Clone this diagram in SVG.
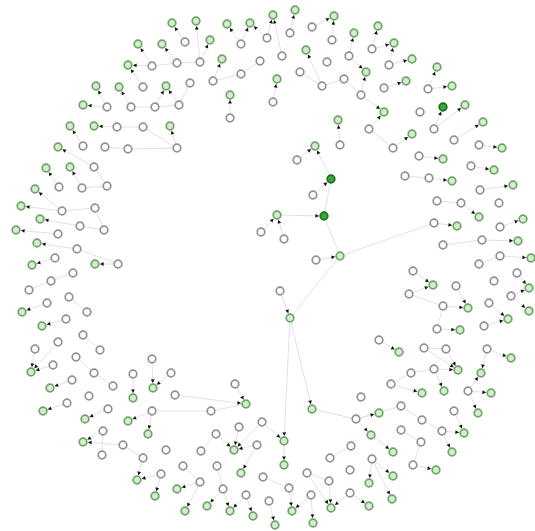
<svg xmlns="http://www.w3.org/2000/svg" width="535" height="531" viewBox="0 0 535 531">
<style>
.e{stroke:#e2e2e2;stroke-width:1;fill:none}
.a{marker-end:url(#ar)}
.g{fill:#fff;stroke:#929292;stroke-width:1.7}
.l{fill:#d4ecd0;stroke:#6fa467;stroke-width:1.7}
.d{fill:#38a838;stroke:#1f6e1f;stroke-width:1.7}
</style>
<defs>
<marker id="ar" markerUnits="userSpaceOnUse" markerWidth="12" markerHeight="6" viewBox="-10 -3 12 6" refX="0" refY="0" orient="auto" overflow="visible"><path d="M-8.6,-1.9 L-5,0 L-8.6,1.9 z" fill="#111"/></marker>
</defs>
<rect width="535" height="531" fill="#fff"/>
<g id="edges">
<line class="e" x1="290" y1="318" x2="340" y2="256"/>
<line class="e" x1="340" y1="256" x2="434" y2="223"/>
<line class="e" x1="324" y1="216" x2="340" y2="256"/>
<line class="e" x1="331" y1="179" x2="324" y2="216"/>
<line class="e" x1="312" y1="409" x2="356" y2="419"/>
<line class="e" x1="152" y1="411" x2="211" y2="411"/>
<line class="e" x1="211" y1="411" x2="246" y2="404"/>
<line class="e" x1="177" y1="63" x2="200" y2="62"/>
<line class="e" x1="152" y1="66" x2="177" y2="63"/>
<line class="e" x1="131" y1="107" x2="155" y2="107"/>
<line class="e" x1="155" y1="107" x2="179" y2="105"/>
<line class="e" x1="179" y1="105" x2="190" y2="83"/>
<line class="e" x1="117" y1="127" x2="143" y2="127"/>
<line class="e" x1="143" y1="127" x2="177" y2="148"/>
<line class="e" x1="105" y1="147" x2="128" y2="149"/>
<line class="e" x1="128" y1="149" x2="177" y2="148"/>
<line class="e" x1="94" y1="167" x2="107" y2="186"/>
<line class="e" x1="82" y1="188" x2="107" y2="186"/>
<line class="e" x1="95" y1="208" x2="104" y2="230"/>
<line class="e" x1="62" y1="211" x2="95" y2="208"/>
<line class="e" x1="80" y1="226" x2="104" y2="230"/>
<line class="e" x1="77" y1="249" x2="118" y2="264"/>
<line class="e" x1="213" y1="81" x2="241" y2="74"/>
<line class="e" x1="241" y1="74" x2="260" y2="61"/>
<line class="e" x1="300" y1="72" x2="322" y2="86"/>
<line class="e" x1="322" y1="86" x2="344" y2="79"/>
<line class="e" x1="344" y1="79" x2="361" y2="95"/>
<line class="e" x1="369" y1="129" x2="393" y2="148"/>
<line class="e" x1="405" y1="176" x2="429" y2="178"/>
<line class="e" x1="437" y1="201" x2="461" y2="203"/>
<line class="e" x1="443" y1="245" x2="482" y2="240"/>
<line class="e" x1="479" y1="264" x2="500" y2="256"/>
<line class="e" x1="409" y1="294" x2="443" y2="306"/>
<line class="e" x1="443" y1="306" x2="437" y2="329"/>
<line class="e" x1="424" y1="348" x2="446" y2="349"/>
<line class="e" x1="411" y1="373" x2="434" y2="369"/>
<line class="e" x1="391" y1="384" x2="411" y2="373"/>
<line class="e" x1="356" y1="419" x2="401" y2="406"/>
<line class="e" x1="401" y1="406" x2="422" y2="420"/>
<line class="e" x1="422" y1="420" x2="442" y2="431"/>
<line class="e" x1="401" y1="430" x2="421" y2="442"/>
<line class="e" x1="421" y1="442" x2="413" y2="465"/>
<line class="e" x1="330" y1="458" x2="351" y2="446"/>
<line class="e" x1="307" y1="473" x2="329" y2="481"/>
<line class="e" x1="263" y1="477" x2="289" y2="488"/>
<line class="e" x1="217" y1="466" x2="223" y2="489"/>
<line class="e" x1="183" y1="466" x2="200" y2="482"/>
<line class="e" x1="201" y1="451" x2="216" y2="434"/>
<line class="e" x1="123" y1="445" x2="143" y2="458"/>
<line class="e" x1="103" y1="431" x2="102" y2="455"/>
<line class="e" x1="29" y1="290" x2="51" y2="281"/>
<line class="e" x1="51" y1="281" x2="73" y2="273"/>
<line class="e" x1="69" y1="297" x2="87" y2="312"/>
<line class="e" x1="83" y1="335" x2="100" y2="350"/>
<line class="e" x1="76" y1="357" x2="94" y2="373"/>
<line class="e" x1="94" y1="373" x2="113" y2="386"/>
<line class="e a" x1="185" y1="42" x2="172" y2="23"/>
<line class="e a" x1="152" y1="66" x2="138" y2="44"/>
<line class="e a" x1="177" y1="63" x2="162" y2="44"/>
<line class="e a" x1="152" y1="66" x2="128" y2="65"/>
<line class="e a" x1="143" y1="87" x2="128" y2="65"/>
<line class="e a" x1="107" y1="107" x2="96" y2="86"/>
<line class="e a" x1="131" y1="107" x2="119" y2="87"/>
<line class="e a" x1="179" y1="105" x2="166" y2="86"/>
<line class="e a" x1="155" y1="107" x2="166" y2="86"/>
<line class="e a" x1="107" y1="107" x2="83" y2="105"/>
<line class="e a" x1="83" y1="146" x2="70" y2="126"/>
<line class="e a" x1="117" y1="127" x2="94" y2="126"/>
<line class="e a" x1="177" y1="148" x2="170" y2="126"/>
<line class="e a" x1="200" y1="62" x2="196" y2="21"/>
<line class="e a" x1="241" y1="44" x2="227" y2="24"/>
<line class="e a" x1="241" y1="44" x2="250" y2="23"/>
<line class="e a" x1="267" y1="38" x2="250" y2="23"/>
<line class="e a" x1="267" y1="38" x2="273" y2="15"/>
<line class="e a" x1="282" y1="56" x2="273" y2="15"/>
<line class="e a" x1="290" y1="33" x2="295" y2="10"/>
<line class="e a" x1="312" y1="27" x2="334" y2="16"/>
<line class="e a" x1="332" y1="40" x2="334" y2="16"/>
<line class="e a" x1="349" y1="56" x2="354" y2="33"/>
<line class="e a" x1="200" y1="62" x2="210" y2="40"/>
<line class="e a" x1="213" y1="81" x2="222" y2="59"/>
<line class="e a" x1="322" y1="86" x2="306" y2="50"/>
<line class="e a" x1="273" y1="102" x2="277" y2="79"/>
<line class="e a" x1="230" y1="118" x2="230" y2="95"/>
<line class="e a" x1="340" y1="145" x2="338" y2="120"/>
<line class="e a" x1="372" y1="49" x2="378" y2="26"/>
<line class="e a" x1="372" y1="49" x2="394" y2="43"/>
<line class="e a" x1="389" y1="65" x2="394" y2="43"/>
<line class="e a" x1="361" y1="95" x2="366" y2="72"/>
<line class="e a" x1="349" y1="56" x2="366" y2="72"/>
<line class="e a" x1="389" y1="65" x2="412" y2="59"/>
<line class="e a" x1="428" y1="89" x2="437" y2="67"/>
<line class="e a" x1="384" y1="88" x2="406" y2="81"/>
<line class="e a" x1="428" y1="89" x2="452" y2="86"/>
<line class="e a" x1="369" y1="129" x2="384" y2="112"/>
<line class="e a" x1="361" y1="95" x2="384" y2="112"/>
<line class="e a" x1="434" y1="129" x2="443" y2="107"/>
<line class="e a" x1="434" y1="129" x2="465" y2="105"/>
<line class="e a" x1="454" y1="140" x2="483" y2="122"/>
<line class="e a" x1="393" y1="148" x2="412" y2="134"/>
<line class="e a" x1="479" y1="145" x2="502" y2="148"/>
<line class="e a" x1="419" y1="156" x2="443" y2="159"/>
<line class="e a" x1="471" y1="166" x2="494" y2="170"/>
<line class="e a" x1="429" y1="178" x2="452" y2="181"/>
<line class="e a" x1="480" y1="190" x2="513" y2="185"/>
<line class="e a" x1="461" y1="203" x2="479" y2="217"/>
<line class="e a" x1="500" y1="227" x2="523" y2="219"/>
<line class="e a" x1="434" y1="223" x2="457" y2="226"/>
<line class="e a" x1="482" y1="240" x2="518" y2="241"/>
<line class="e a" x1="500" y1="256" x2="531" y2="258"/>
<line class="e a" x1="413" y1="271" x2="433" y2="285"/>
<line class="e a" x1="409" y1="294" x2="433" y2="285"/>
<line class="e a" x1="511" y1="296" x2="529" y2="288"/>
<line class="e a" x1="517" y1="273" x2="529" y2="288"/>
<line class="e a" x1="456" y1="286" x2="468" y2="308"/>
<line class="e a" x1="443" y1="306" x2="468" y2="308"/>
<line class="e a" x1="489" y1="303" x2="508" y2="319"/>
<line class="e a" x1="484" y1="326" x2="508" y2="319"/>
<line class="e a" x1="511" y1="296" x2="529" y2="311"/>
<line class="e a" x1="437" y1="329" x2="460" y2="330"/>
<line class="e a" x1="379" y1="340" x2="399" y2="352"/>
<line class="e a" x1="487" y1="349" x2="511" y2="358"/>
<line class="e a" x1="446" y1="349" x2="458" y2="370"/>
<line class="e a" x1="434" y1="369" x2="458" y2="370"/>
<line class="e a" x1="424" y1="348" x2="458" y2="370"/>
<line class="e a" x1="487" y1="349" x2="481" y2="373"/>
<line class="e a" x1="468" y1="391" x2="481" y2="373"/>
<line class="e a" x1="391" y1="384" x2="422" y2="393"/>
<line class="e a" x1="434" y1="369" x2="444" y2="391"/>
<line class="e a" x1="468" y1="391" x2="491" y2="393"/>
<line class="e a" x1="356" y1="419" x2="379" y2="413"/>
<line class="e a" x1="468" y1="391" x2="478" y2="413"/>
<line class="e a" x1="356" y1="419" x2="371" y2="435"/>
<line class="e a" x1="454" y1="411" x2="464" y2="433"/>
<line class="e a" x1="442" y1="431" x2="464" y2="433"/>
<line class="e a" x1="371" y1="435" x2="393" y2="452"/>
<line class="e a" x1="442" y1="431" x2="452" y2="452"/>
<line class="e a" x1="413" y1="465" x2="436" y2="470"/>
<line class="e a" x1="372" y1="459" x2="369" y2="483"/>
<line class="e a" x1="372" y1="459" x2="393" y2="476"/>
<line class="e a" x1="350" y1="493" x2="369" y2="506"/>
<line class="e a" x1="372" y1="459" x2="392" y2="499"/>
<line class="e a" x1="175" y1="395" x2="246" y2="404"/>
<line class="e a" x1="235" y1="384" x2="246" y2="404"/>
<line class="e a" x1="290" y1="318" x2="312" y2="409"/>
<line class="e a" x1="290" y1="318" x2="284" y2="441"/>
<line class="e a" x1="216" y1="434" x2="234" y2="450"/>
<line class="e a" x1="239" y1="427" x2="234" y2="450"/>
<line class="e a" x1="262" y1="422" x2="234" y2="450"/>
<line class="e a" x1="257" y1="445" x2="234" y2="450"/>
<line class="e a" x1="262" y1="422" x2="284" y2="441"/>
<line class="e a" x1="257" y1="445" x2="241" y2="473"/>
<line class="e a" x1="284" y1="441" x2="284" y2="465"/>
<line class="e a" x1="200" y1="482" x2="185" y2="511"/>
<line class="e a" x1="223" y1="489" x2="207" y2="506"/>
<line class="e a" x1="223" y1="489" x2="230" y2="511"/>
<line class="e a" x1="246" y1="495" x2="230" y2="511"/>
<line class="e a" x1="246" y1="495" x2="253" y2="516"/>
<line class="e a" x1="269" y1="501" x2="275" y2="525"/>
<line class="e a" x1="289" y1="488" x2="292" y2="511"/>
<line class="e a" x1="311" y1="495" x2="292" y2="511"/>
<line class="e a" x1="311" y1="495" x2="313" y2="523"/>
<line class="e a" x1="329" y1="481" x2="331" y2="508"/>
<line class="e a" x1="350" y1="493" x2="331" y2="508"/>
<line class="e a" x1="307" y1="473" x2="331" y2="508"/>
<line class="e a" x1="200" y1="482" x2="177" y2="489"/>
<line class="e a" x1="67" y1="403" x2="43" y2="411"/>
<line class="e a" x1="108" y1="409" x2="85" y2="419"/>
<line class="e a" x1="123" y1="445" x2="83" y2="442"/>
<line class="e a" x1="103" y1="431" x2="83" y2="442"/>
<line class="e a" x1="152" y1="411" x2="128" y2="421"/>
<line class="e a" x1="152" y1="411" x2="148" y2="434"/>
<line class="e a" x1="161" y1="474" x2="137" y2="480"/>
<line class="e a" x1="143" y1="458" x2="137" y2="480"/>
<line class="e a" x1="161" y1="474" x2="155" y2="496"/>
<line class="e a" x1="133" y1="374" x2="133" y2="398"/>
<line class="e a" x1="152" y1="359" x2="153" y2="388"/>
<line class="e a" x1="171" y1="373" x2="153" y2="388"/>
<line class="e a" x1="47" y1="303" x2="22" y2="312"/>
<line class="e a" x1="66" y1="319" x2="42" y2="326"/>
<line class="e a" x1="53" y1="365" x2="31" y2="372"/>
<line class="e a" x1="35" y1="349" x2="31" y2="372"/>
<line class="e a" x1="58" y1="342" x2="31" y2="372"/>
<line class="e a" x1="72" y1="380" x2="50" y2="388"/>
<line class="e a" x1="55" y1="258" x2="32" y2="265"/>
<line class="e a" x1="118" y1="264" x2="95" y2="264"/>
<line class="e a" x1="94" y1="167" x2="58" y2="147"/>
<line class="e a" x1="59" y1="187" x2="46" y2="168"/>
<line class="e a" x1="82" y1="188" x2="70" y2="167"/>
<line class="e a" x1="62" y1="211" x2="35" y2="189"/>
<line class="e a" x1="62" y1="211" x2="21" y2="206"/>
<line class="e a" x1="80" y1="226" x2="40" y2="219"/>
<line class="e a" x1="58" y1="234" x2="16" y2="230"/>
<line class="e a" x1="77" y1="249" x2="37" y2="243"/>
<line class="e a" x1="261" y1="232" x2="277" y2="215"/>
<line class="e a" x1="284" y1="239" x2="277" y2="215"/>
<line class="e a" x1="277" y1="215" x2="324" y2="216"/>
<line class="e a" x1="313" y1="195" x2="331" y2="179"/>
<line class="e a" x1="297" y1="160" x2="315" y2="146"/>
<line class="e a" x1="331" y1="179" x2="315" y2="146"/>
<line class="e a" x1="316" y1="260" x2="340" y2="256"/>
<line class="e a" x1="280" y1="291" x2="290" y2="318"/>
</g>
<g id="nodes">
<g id="g1"><circle class="g" cx="152" cy="66" r="3.8"/></g>
<g id="g2"><circle class="g" cx="177" cy="63" r="3.8"/></g>
<g id="g3"><circle class="g" cx="143" cy="87" r="3.8"/></g>
<g id="g4"><circle class="g" cx="107" cy="107" r="3.8"/></g>
<g id="g5"><circle class="g" cx="131" cy="107" r="3.8"/></g>
<g id="g6"><circle class="g" cx="155" cy="107" r="3.8"/></g>
<g id="g7"><circle class="g" cx="179" cy="105" r="3.8"/></g>
<g id="g8"><circle class="g" cx="117" cy="127" r="3.8"/></g>
<g id="g9"><circle class="g" cx="143" cy="127" r="3.8"/></g>
<g id="g10"><circle class="g" cx="312" cy="27" r="3.8"/></g>
<g id="g11"><circle class="g" cx="185" cy="42" r="3.8"/></g>
<g id="g12"><circle class="g" cx="241" cy="44" r="3.8"/></g>
<g id="g13"><circle class="g" cx="267" cy="38" r="3.8"/></g>
<g id="g14"><circle class="g" cx="290" cy="33" r="3.8"/></g>
<g id="g15"><circle class="g" cx="332" cy="40" r="3.8"/></g>
<g id="g16"><circle class="g" cx="200" cy="62" r="3.8"/></g>
<g id="g17"><circle class="g" cx="260" cy="61" r="3.8"/></g>
<g id="g18"><circle class="g" cx="282" cy="56" r="3.8"/></g>
<g id="g19"><circle class="g" cx="327" cy="62" r="3.8"/></g>
<g id="g20"><circle class="g" cx="349" cy="56" r="3.8"/></g>
<g id="g21"><circle class="g" cx="190" cy="83" r="3.8"/></g>
<g id="g22"><circle class="g" cx="213" cy="81" r="3.8"/></g>
<g id="g23"><circle class="g" cx="241" cy="74" r="3.8"/></g>
<g id="g24"><circle class="g" cx="300" cy="72" r="3.8"/></g>
<g id="g25"><circle class="g" cx="322" cy="86" r="3.8"/></g>
<g id="g26"><circle class="g" cx="344" cy="79" r="3.8"/></g>
<g id="g27"><circle class="g" cx="273" cy="102" r="3.8"/></g>
<g id="g28"><circle class="g" cx="230" cy="118" r="3.8"/></g>
<g id="g29"><circle class="g" cx="372" cy="49" r="3.8"/></g>
<g id="g30"><circle class="g" cx="389" cy="65" r="3.8"/></g>
<g id="g31"><circle class="g" cx="361" cy="95" r="3.8"/></g>
<g id="g32"><circle class="g" cx="384" cy="88" r="3.8"/></g>
<g id="g33"><circle class="g" cx="428" cy="89" r="3.8"/></g>
<g id="g34"><circle class="g" cx="420" cy="112" r="3.8"/></g>
<g id="g35"><circle class="g" cx="369" cy="129" r="3.8"/></g>
<g id="g36"><circle class="g" cx="434" cy="129" r="3.8"/></g>
<g id="g37"><circle class="g" cx="83" cy="146" r="3.8"/></g>
<g id="g38"><circle class="g" cx="105" cy="147" r="3.8"/></g>
<g id="g39"><circle class="g" cx="128" cy="149" r="3.8"/></g>
<g id="g40"><circle class="g" cx="177" cy="148" r="3.8"/></g>
<g id="g41"><circle class="g" cx="94" cy="167" r="3.8"/></g>
<g id="g42"><circle class="g" cx="59" cy="187" r="3.8"/></g>
<g id="g43"><circle class="g" cx="82" cy="188" r="3.8"/></g>
<g id="g44"><circle class="g" cx="107" cy="186" r="3.8"/></g>
<g id="g45"><circle class="g" cx="62" cy="211" r="3.8"/></g>
<g id="g46"><circle class="g" cx="95" cy="208" r="3.8"/></g>
<g id="g47"><circle class="g" cx="80" cy="226" r="3.8"/></g>
<g id="g48"><circle class="g" cx="104" cy="230" r="3.8"/></g>
<g id="g49"><circle class="g" cx="58" cy="234" r="3.8"/></g>
<g id="g50"><circle class="g" cx="77" cy="249" r="3.8"/></g>
<g id="g51"><circle class="g" cx="55" cy="258" r="3.8"/></g>
<g id="g52"><circle class="g" cx="118" cy="264" r="3.8"/></g>
<g id="g53"><circle class="g" cx="340" cy="145" r="3.8"/></g>
<g id="g54"><circle class="g" cx="297" cy="160" r="3.8"/></g>
<g id="g55"><circle class="g" cx="313" cy="195" r="3.8"/></g>
<g id="g56"><circle class="g" cx="261" cy="232" r="3.8"/></g>
<g id="g57"><circle class="g" cx="284" cy="239" r="3.8"/></g>
<g id="g58"><circle class="g" cx="316" cy="260" r="3.8"/></g>
<g id="g59"><circle class="g" cx="454" cy="140" r="3.8"/></g>
<g id="g60"><circle class="g" cx="479" cy="145" r="3.8"/></g>
<g id="g61"><circle class="g" cx="393" cy="148" r="3.8"/></g>
<g id="g62"><circle class="g" cx="419" cy="156" r="3.8"/></g>
<g id="g63"><circle class="g" cx="471" cy="166" r="3.8"/></g>
<g id="g64"><circle class="g" cx="405" cy="176" r="3.8"/></g>
<g id="g65"><circle class="g" cx="429" cy="178" r="3.8"/></g>
<g id="g66"><circle class="g" cx="480" cy="190" r="3.8"/></g>
<g id="g67"><circle class="g" cx="437" cy="201" r="3.8"/></g>
<g id="g68"><circle class="g" cx="461" cy="203" r="3.8"/></g>
<g id="g69"><circle class="g" cx="499" cy="203" r="3.8"/></g>
<g id="g70"><circle class="g" cx="434" cy="223" r="3.8"/></g>
<g id="g71"><circle class="g" cx="500" cy="227" r="3.8"/></g>
<g id="g72"><circle class="g" cx="443" cy="245" r="3.8"/></g>
<g id="g73"><circle class="g" cx="482" cy="240" r="3.8"/></g>
<g id="g74"><circle class="g" cx="500" cy="256" r="3.8"/></g>
<g id="g75"><circle class="g" cx="479" cy="264" r="3.8"/></g>
<g id="g76"><circle class="g" cx="73" cy="273" r="3.8"/></g>
<g id="g77"><circle class="g" cx="51" cy="281" r="3.8"/></g>
<g id="g78"><circle class="g" cx="29" cy="290" r="3.8"/></g>
<g id="g79"><circle class="g" cx="69" cy="297" r="3.8"/></g>
<g id="g80"><circle class="g" cx="47" cy="303" r="3.8"/></g>
<g id="g81"><circle class="g" cx="87" cy="312" r="3.8"/></g>
<g id="g82"><circle class="g" cx="66" cy="319" r="3.8"/></g>
<g id="g83"><circle class="g" cx="83" cy="335" r="3.8"/></g>
<g id="g84"><circle class="g" cx="58" cy="342" r="3.8"/></g>
<g id="g85"><circle class="g" cx="35" cy="349" r="3.8"/></g>
<g id="g86"><circle class="g" cx="100" cy="350" r="3.8"/></g>
<g id="g87"><circle class="g" cx="76" cy="357" r="3.8"/></g>
<g id="g88"><circle class="g" cx="53" cy="365" r="3.8"/></g>
<g id="g89"><circle class="g" cx="94" cy="373" r="3.8"/></g>
<g id="g90"><circle class="g" cx="152" cy="359" r="3.8"/></g>
<g id="g91"><circle class="g" cx="72" cy="380" r="3.8"/></g>
<g id="g92"><circle class="g" cx="133" cy="374" r="3.8"/></g>
<g id="g93"><circle class="g" cx="171" cy="373" r="3.8"/></g>
<g id="g94"><circle class="g" cx="113" cy="386" r="3.8"/></g>
<g id="g95"><circle class="g" cx="89" cy="396" r="3.8"/></g>
<g id="g96"><circle class="g" cx="175" cy="395" r="3.8"/></g>
<g id="g97"><circle class="g" cx="280" cy="291" r="3.8"/></g>
<g id="g98"><circle class="g" cx="235" cy="384" r="3.8"/></g>
<g id="g99"><circle class="g" cx="413" cy="271" r="3.8"/></g>
<g id="g100"><circle class="g" cx="517" cy="273" r="3.8"/></g>
<g id="g101"><circle class="g" cx="409" cy="294" r="3.8"/></g>
<g id="g102"><circle class="g" cx="456" cy="286" r="3.8"/></g>
<g id="g103"><circle class="g" cx="494" cy="281" r="3.8"/></g>
<g id="g104"><circle class="g" cx="443" cy="306" r="3.8"/></g>
<g id="g105"><circle class="g" cx="489" cy="303" r="3.8"/></g>
<g id="g106"><circle class="g" cx="511" cy="296" r="3.8"/></g>
<g id="g107"><circle class="g" cx="437" cy="329" r="3.8"/></g>
<g id="g108"><circle class="g" cx="484" cy="326" r="3.8"/></g>
<g id="g109"><circle class="g" cx="379" cy="340" r="3.8"/></g>
<g id="g110"><circle class="g" cx="424" cy="348" r="3.8"/></g>
<g id="g111"><circle class="g" cx="446" cy="349" r="3.8"/></g>
<g id="g112"><circle class="g" cx="487" cy="349" r="3.8"/></g>
<g id="g113"><circle class="g" cx="411" cy="373" r="3.8"/></g>
<g id="g114"><circle class="g" cx="434" cy="369" r="3.8"/></g>
<g id="g115"><circle class="g" cx="391" cy="384" r="3.8"/></g>
<g id="g116"><circle class="g" cx="468" cy="391" r="3.8"/></g>
<g id="g117"><circle class="g" cx="361" cy="397" r="3.8"/></g>
<g id="g118"><circle class="g" cx="67" cy="403" r="3.8"/></g>
<g id="g119"><circle class="g" cx="108" cy="409" r="3.8"/></g>
<g id="g120"><circle class="g" cx="103" cy="431" r="3.8"/></g>
<g id="g121"><circle class="g" cx="123" cy="445" r="3.8"/></g>
<g id="g122"><circle class="g" cx="102" cy="455" r="3.8"/></g>
<g id="g123"><circle class="g" cx="152" cy="411" r="3.8"/></g>
<g id="g124"><circle class="g" cx="166" cy="450" r="3.8"/></g>
<g id="g125"><circle class="g" cx="143" cy="458" r="3.8"/></g>
<g id="g126"><circle class="g" cx="161" cy="474" r="3.8"/></g>
<g id="g127"><circle class="g" cx="356" cy="419" r="3.8"/></g>
<g id="g128"><circle class="g" cx="211" cy="411" r="3.8"/></g>
<g id="g129"><circle class="g" cx="262" cy="422" r="3.8"/></g>
<g id="g130"><circle class="g" cx="239" cy="427" r="3.8"/></g>
<g id="g131"><circle class="g" cx="216" cy="434" r="3.8"/></g>
<g id="g132"><circle class="g" cx="257" cy="445" r="3.8"/></g>
<g id="g133"><circle class="g" cx="201" cy="451" r="3.8"/></g>
<g id="g134"><circle class="g" cx="330" cy="458" r="3.8"/></g>
<g id="g135"><circle class="g" cx="351" cy="446" r="3.8"/></g>
<g id="g136"><circle class="g" cx="183" cy="466" r="3.8"/></g>
<g id="g137"><circle class="g" cx="217" cy="466" r="3.8"/></g>
<g id="g138"><circle class="g" cx="307" cy="473" r="3.8"/></g>
<g id="g139"><circle class="g" cx="350" cy="470" r="3.8"/></g>
<g id="g140"><circle class="g" cx="263" cy="477" r="3.8"/></g>
<g id="g141"><circle class="g" cx="200" cy="482" r="3.8"/></g>
<g id="g142"><circle class="g" cx="329" cy="481" r="3.8"/></g>
<g id="g143"><circle class="g" cx="223" cy="489" r="3.8"/></g>
<g id="g144"><circle class="g" cx="289" cy="488" r="3.8"/></g>
<g id="g145"><circle class="g" cx="246" cy="495" r="3.8"/></g>
<g id="g146"><circle class="g" cx="311" cy="495" r="3.8"/></g>
<g id="g147"><circle class="g" cx="350" cy="493" r="3.8"/></g>
<g id="g148"><circle class="g" cx="269" cy="501" r="3.8"/></g>
<g id="g149"><circle class="g" cx="401" cy="406" r="3.8"/></g>
<g id="g150"><circle class="g" cx="454" cy="411" r="3.8"/></g>
<g id="g151"><circle class="g" cx="422" cy="420" r="3.8"/></g>
<g id="g152"><circle class="g" cx="401" cy="430" r="3.8"/></g>
<g id="g153"><circle class="g" cx="442" cy="431" r="3.8"/></g>
<g id="g154"><circle class="g" cx="421" cy="442" r="3.8"/></g>
<g id="g155"><circle class="g" cx="372" cy="459" r="3.8"/></g>
<g id="g156"><circle class="g" cx="413" cy="465" r="3.8"/></g>
<g id="l1"><circle class="l" cx="172" cy="23" r="3.8"/></g>
<g id="l2"><circle class="l" cx="138" cy="44" r="3.8"/></g>
<g id="l3"><circle class="l" cx="162" cy="44" r="3.8"/></g>
<g id="l4"><circle class="l" cx="128" cy="65" r="3.8"/></g>
<g id="l5"><circle class="l" cx="96" cy="86" r="3.8"/></g>
<g id="l6"><circle class="l" cx="119" cy="87" r="3.8"/></g>
<g id="l7"><circle class="l" cx="166" cy="86" r="3.8"/></g>
<g id="l8"><circle class="l" cx="83" cy="105" r="3.8"/></g>
<g id="l9"><circle class="l" cx="70" cy="126" r="3.8"/></g>
<g id="l10"><circle class="l" cx="94" cy="126" r="3.8"/></g>
<g id="l11"><circle class="l" cx="170" cy="126" r="3.8"/></g>
<g id="l12"><circle class="l" cx="196" cy="21" r="3.8"/></g>
<g id="l13"><circle class="l" cx="227" cy="24" r="3.8"/></g>
<g id="l14"><circle class="l" cx="250" cy="23" r="3.8"/></g>
<g id="l15"><circle class="l" cx="273" cy="15" r="3.8"/></g>
<g id="l16"><circle class="l" cx="295" cy="10" r="3.8"/></g>
<g id="l17"><circle class="l" cx="334" cy="16" r="3.8"/></g>
<g id="l18"><circle class="l" cx="354" cy="33" r="3.8"/></g>
<g id="l19"><circle class="l" cx="210" cy="40" r="3.8"/></g>
<g id="l20"><circle class="l" cx="222" cy="59" r="3.8"/></g>
<g id="l21"><circle class="l" cx="306" cy="50" r="3.8"/></g>
<g id="l22"><circle class="l" cx="277" cy="79" r="3.8"/></g>
<g id="l23"><circle class="l" cx="230" cy="95" r="3.8"/></g>
<g id="l24"><circle class="l" cx="338" cy="120" r="3.8"/></g>
<g id="l25"><circle class="l" cx="378" cy="26" r="3.8"/></g>
<g id="l26"><circle class="l" cx="394" cy="43" r="3.8"/></g>
<g id="l27"><circle class="l" cx="366" cy="72" r="3.8"/></g>
<g id="l28"><circle class="l" cx="412" cy="59" r="3.8"/></g>
<g id="l29"><circle class="l" cx="437" cy="67" r="3.8"/></g>
<g id="l30"><circle class="l" cx="406" cy="81" r="3.8"/></g>
<g id="l31"><circle class="l" cx="452" cy="86" r="3.8"/></g>
<g id="l32"><circle class="l" cx="384" cy="112" r="3.8"/></g>
<g id="l33"><circle class="l" cx="465" cy="105" r="3.8"/></g>
<g id="l34"><circle class="l" cx="483" cy="122" r="3.8"/></g>
<g id="l35"><circle class="l" cx="58" cy="147" r="3.8"/></g>
<g id="l36"><circle class="l" cx="46" cy="168" r="3.8"/></g>
<g id="l37"><circle class="l" cx="70" cy="167" r="3.8"/></g>
<g id="l38"><circle class="l" cx="35" cy="189" r="3.8"/></g>
<g id="l39"><circle class="l" cx="21" cy="206" r="3.8"/></g>
<g id="l40"><circle class="l" cx="40" cy="219" r="3.8"/></g>
<g id="l41"><circle class="l" cx="16" cy="230" r="3.8"/></g>
<g id="l42"><circle class="l" cx="37" cy="243" r="3.8"/></g>
<g id="l43"><circle class="l" cx="32" cy="265" r="3.8"/></g>
<g id="l44"><circle class="l" cx="95" cy="264" r="3.8"/></g>
<g id="l45"><circle class="l" cx="315" cy="146" r="3.8"/></g>
<g id="l46"><circle class="l" cx="277" cy="215" r="3.8"/></g>
<g id="l47"><circle class="l" cx="340" cy="256" r="3.8"/></g>
<g id="l48"><circle class="l" cx="412" cy="134" r="3.8"/></g>
<g id="l49"><circle class="l" cx="502" cy="148" r="3.8"/></g>
<g id="l50"><circle class="l" cx="443" cy="159" r="3.8"/></g>
<g id="l51"><circle class="l" cx="494" cy="170" r="3.8"/></g>
<g id="l52"><circle class="l" cx="452" cy="181" r="3.8"/></g>
<g id="l53"><circle class="l" cx="513" cy="185" r="3.8"/></g>
<g id="l54"><circle class="l" cx="479" cy="217" r="3.8"/></g>
<g id="l55"><circle class="l" cx="523" cy="219" r="3.8"/></g>
<g id="l56"><circle class="l" cx="457" cy="226" r="3.8"/></g>
<g id="l57"><circle class="l" cx="518" cy="241" r="3.8"/></g>
<g id="l58"><circle class="l" cx="531" cy="258" r="3.8"/></g>
<g id="l59"><circle class="l" cx="22" cy="312" r="3.8"/></g>
<g id="l60"><circle class="l" cx="42" cy="326" r="3.8"/></g>
<g id="l61"><circle class="l" cx="31" cy="372" r="3.8"/></g>
<g id="l62"><circle class="l" cx="50" cy="388" r="3.8"/></g>
<g id="l63"><circle class="l" cx="153" cy="388" r="3.8"/></g>
<g id="l64"><circle class="l" cx="133" cy="398" r="3.8"/></g>
<g id="l65"><circle class="l" cx="290" cy="318" r="3.8"/></g>
<g id="l66"><circle class="l" cx="433" cy="285" r="3.8"/></g>
<g id="l67"><circle class="l" cx="529" cy="288" r="3.8"/></g>
<g id="l68"><circle class="l" cx="468" cy="308" r="3.8"/></g>
<g id="l69"><circle class="l" cx="508" cy="319" r="3.8"/></g>
<g id="l70"><circle class="l" cx="529" cy="311" r="3.8"/></g>
<g id="l71"><circle class="l" cx="460" cy="330" r="3.8"/></g>
<g id="l72"><circle class="l" cx="399" cy="352" r="3.8"/></g>
<g id="l73"><circle class="l" cx="511" cy="358" r="3.8"/></g>
<g id="l74"><circle class="l" cx="458" cy="370" r="3.8"/></g>
<g id="l75"><circle class="l" cx="481" cy="373" r="3.8"/></g>
<g id="l76"><circle class="l" cx="422" cy="393" r="3.8"/></g>
<g id="l77"><circle class="l" cx="444" cy="391" r="3.8"/></g>
<g id="l78"><circle class="l" cx="491" cy="393" r="3.8"/></g>
<g id="l79"><circle class="l" cx="43" cy="411" r="3.8"/></g>
<g id="l80"><circle class="l" cx="85" cy="419" r="3.8"/></g>
<g id="l81"><circle class="l" cx="83" cy="442" r="3.8"/></g>
<g id="l82"><circle class="l" cx="128" cy="421" r="3.8"/></g>
<g id="l83"><circle class="l" cx="148" cy="434" r="3.8"/></g>
<g id="l84"><circle class="l" cx="137" cy="480" r="3.8"/></g>
<g id="l85"><circle class="l" cx="155" cy="496" r="3.8"/></g>
<g id="l86"><circle class="l" cx="177" cy="489" r="3.8"/></g>
<g id="l87"><circle class="l" cx="246" cy="404" r="3.8"/></g>
<g id="l88"><circle class="l" cx="312" cy="409" r="3.8"/></g>
<g id="l89"><circle class="l" cx="234" cy="450" r="3.8"/></g>
<g id="l90"><circle class="l" cx="284" cy="441" r="3.8"/></g>
<g id="l91"><circle class="l" cx="241" cy="473" r="3.8"/></g>
<g id="l92"><circle class="l" cx="284" cy="465" r="3.8"/></g>
<g id="l93"><circle class="l" cx="185" cy="511" r="3.8"/></g>
<g id="l94"><circle class="l" cx="207" cy="506" r="3.8"/></g>
<g id="l95"><circle class="l" cx="230" cy="511" r="3.8"/></g>
<g id="l96"><circle class="l" cx="292" cy="511" r="3.8"/></g>
<g id="l97"><circle class="l" cx="331" cy="508" r="3.8"/></g>
<g id="l98"><circle class="l" cx="253" cy="516" r="3.8"/></g>
<g id="l99"><circle class="l" cx="275" cy="525" r="3.8"/></g>
<g id="l100"><circle class="l" cx="313" cy="523" r="3.8"/></g>
<g id="l101"><circle class="l" cx="379" cy="413" r="3.8"/></g>
<g id="l102"><circle class="l" cx="478" cy="413" r="3.8"/></g>
<g id="l103"><circle class="l" cx="371" cy="435" r="3.8"/></g>
<g id="l104"><circle class="l" cx="464" cy="433" r="3.8"/></g>
<g id="l105"><circle class="l" cx="393" cy="452" r="3.8"/></g>
<g id="l106"><circle class="l" cx="452" cy="452" r="3.8"/></g>
<g id="l107"><circle class="l" cx="436" cy="470" r="3.8"/></g>
<g id="l108"><circle class="l" cx="369" cy="483" r="3.8"/></g>
<g id="l109"><circle class="l" cx="393" cy="476" r="3.8"/></g>
<g id="l110"><circle class="l" cx="369" cy="506" r="3.8"/></g>
<g id="l111"><circle class="l" cx="392" cy="499" r="3.8"/></g>
<g id="d1"><circle class="d" cx="443" cy="107" r="3.8"/></g>
<g id="d2"><circle class="d" cx="331" cy="179" r="3.8"/></g>
<g id="d3"><circle class="d" cx="324" cy="216" r="3.8"/></g>
</g>
</svg>
